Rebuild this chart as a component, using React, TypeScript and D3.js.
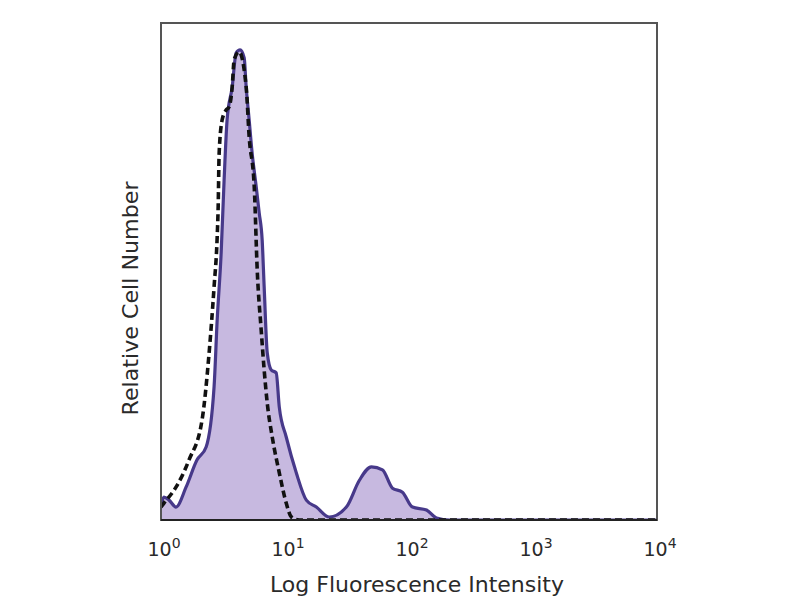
import * as d3 from "d3";

// stained sample (filled, solid outline)
const stainedIntensity = [
  1, 1.057, 1.161, 1.321, 1.592, 1.954, 2.312, 2.679, 2.838, 3.055, 3.228, 3.412,
  3.75, 4.036, 4.345, 4.688, 4.864, 5.14, 5.433, 5.861, 6.194, 6.546, 6.792, 7.194,
  7.745, 8.492, 8.995, 10.23, 12.33, 14.86, 17.91, 22.8, 31.26, 39.81, 49.77, 61.09,
  73.62, 88.51, 106.7, 138.4, 166.7, 212.3, 10000,
];
const stainedCount = [
  3.0, 4.6, 4.0, 2.6, 6.6, 12.1, 14.7, 26.8, 40.2, 53.7, 68.4, 80.5,
  87.1, 94.0, 94.6, 93.0, 87.1, 80.5, 73.8, 67.0, 61.8, 56.3, 46.9, 33.6,
  30.2, 29.6, 22.7, 16.7, 9.5, 4.0, 2.6, 0.6, 2.6, 8.0, 10.7, 10.1,
  6.4, 5.6, 2.6, 2.0, 0.4, 0, 0,
];

// isotype control (dashed)
const controlIntensity = [
  1, 1.057, 1.321, 1.683, 2.143, 2.443, 2.679, 2.838, 2.891, 2.944, 3.112, 3.35,
  3.54, 3.75, 3.89, 4.266, 4.864, 5.14, 5.649, 5.97, 6.427, 6.792, 7.194, 7.889,
  8.995, 10.23, 11.25, 13.03, 10000,
];
const controlCount = [
  2.6, 3.4, 6.6, 12.1, 20.1, 33.6, 46.9, 56.9, 63.0, 73.8, 80.5, 82.5,
  83.1, 87.1, 92.6, 94.2, 87.1, 77.1, 67.0, 50.3, 38.2, 30.2, 23.5, 16.7,
  9.5, 3.4, 0.6, 0, 0,
];

const tickExponents = [0, 1, 2, 3, 4];

const W = 800;
const H = 600;
const left = 161;
const right = 657;
const top = 23;
const bottom = 520;

export default function App() {
  const x = d3.scaleLog().domain([1, 10000]).range([left, right]);
  const y = d3.scaleLinear().domain([0, 100]).range([bottom, top]);

  const stained = stainedIntensity.map((v, i) => [v, stainedCount[i]] as [number, number]);
  const control = controlIntensity.map((v, i) => [v, controlCount[i]] as [number, number]);

  const area = d3
    .area<[number, number]>()
    .x((d) => x(d[0]))
    .y0(y(0))
    .y1((d) => y(d[1]))
    .curve(d3.curveMonotoneX);
  const line = d3
    .line<[number, number]>()
    .x((d) => x(d[0]))
    .y((d) => y(d[1]))
    .curve(d3.curveMonotoneX);

  const font = "'DejaVu Sans', Verdana, sans-serif";

  return (
    <svg
      width={W}
      height={H}
      style={{ position: "absolute", left: 0, top: 0, background: "#fff" }}
    >
      <defs>
        <clipPath id="plot-clip">
          <rect x={left} y={top} width={right - left} height={bottom - top} />
        </clipPath>
      </defs>
      <g clipPath="url(#plot-clip)">
        <path d={area(stained) ?? ""} fill="#c7b9e0" stroke="none" />
        <path
          d={line(stained) ?? ""}
          fill="none"
          stroke="#47398a"
          strokeWidth={3.2}
          strokeLinejoin="round"
        />
        <path
          d={line(control) ?? ""}
          fill="none"
          stroke="#111"
          strokeWidth={3.6}
          strokeDasharray="7,4"
        />
      </g>
      <rect
        x={left}
        y={top}
        width={right - left}
        height={bottom - top}
        fill="none"
        stroke="#555"
        strokeWidth={2}
      />
      <line x1={left} x2={right} y1={bottom} y2={bottom} stroke="#222" strokeWidth={2} />
      {tickExponents.map((e) => (
        <text
          key={e}
          x={x(Math.pow(10, e)) + 3}
          y={556}
          textAnchor="middle"
          fontFamily={font}
          fontSize={19}
          fill="#2a2a2a"
        >
          10
          <tspan dy={-8} fontSize={14}>
            {e}
          </tspan>
        </text>
      ))}
      <text
        x={(left + right) / 2 + 8}
        y={592}
        textAnchor="middle"
        fontFamily={font}
        fontSize={21}
        fill="#2a2a2a"
        textLength={294}
        lengthAdjust="spacingAndGlyphs"
      >
        Log Fluorescence Intensity
      </text>
      <text
        transform={`translate(138, ${(top + bottom) / 2 + 27}) rotate(-90)`}
        textAnchor="middle"
        fontFamily={font}
        fontSize={21}
        fill="#2a2a2a"
        textLength={234}
        lengthAdjust="spacingAndGlyphs"
      >
        Relative Cell Number
      </text>
    </svg>
  );
}
